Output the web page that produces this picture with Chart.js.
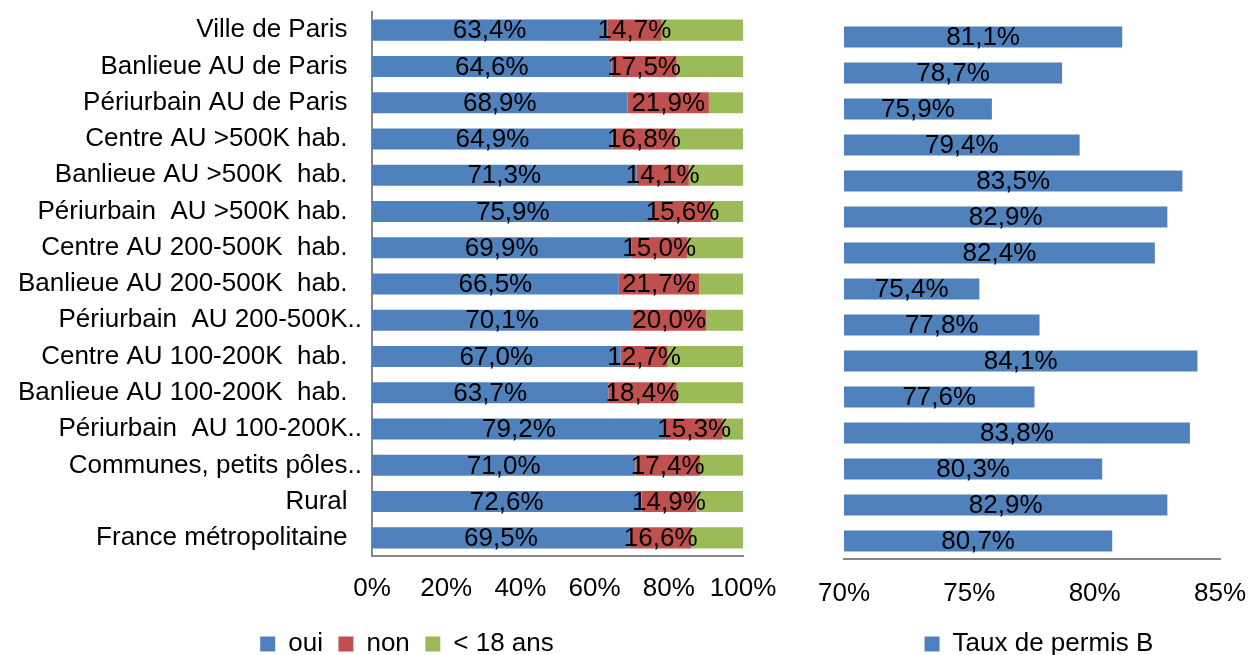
<!DOCTYPE html>
<html>
<head>
<meta charset="utf-8">
<script src="https://cdn.jsdelivr.net/npm/chart.js@4.4.1/dist/chart.umd.min.js"></script>
<style>
    html, body { margin: 0; padding: 0; background: #fff; overflow: hidden; width: 1249px; height: 655px; }
    #chartStatut { position: absolute; left: 0; top: 0; }
    #chartPermis { position: absolute; left: 810px; top: 0; }
</style>
</head>
<body>
<canvas id="chartStatut" width="814" height="667"></canvas>
<canvas id="chartPermis" width="458" height="667"></canvas>
<script>
var categories = [
    'Ville de Paris',
    'Banlieue AU de Paris',
    'Périurbain AU de Paris',
    'Centre AU >500K hab.',
    'Banlieue AU >500K  hab.',
    'Périurbain  AU >500K hab.',
    'Centre AU 200-500K  hab.',
    'Banlieue AU 200-500K  hab.',
    'Périurbain  AU 200-500K..',
    'Centre AU 100-200K  hab.',
    'Banlieue AU 100-200K  hab.',
    'Périurbain  AU 100-200K..',
    'Communes, petits pôles..',
    'Rural',
    'France métropolitaine'
];

var ouiValues = [63.4, 64.6, 68.9, 64.9, 71.3, 75.9, 69.9, 66.5, 70.1, 67.0, 63.7, 79.2, 71.0, 72.6, 69.5];
var nonValues = [14.7, 17.5, 21.9, 16.8, 14.1, 15.6, 15.0, 21.7, 20.0, 12.7, 18.4, 15.3, 17.4, 14.9, 16.6];
var moins18Values = [21.9, 17.9, 9.2, 18.3, 14.6, 8.5, 15.1, 11.8, 9.9, 20.3, 17.9, 5.5, 11.6, 12.5, 13.9];
var permisValues = [81.1, 78.7, 75.9, 79.4, 83.5, 82.9, 82.4, 75.4, 77.8, 84.1, 77.6, 83.8, 80.3, 82.9, 80.7];

var FONT = '"Liberation Sans", Arial, Helvetica, sans-serif';
var AXIS_GREY = '#868686';

Chart.defaults.font.family = FONT;
Chart.defaults.font.size = 26;
Chart.defaults.color = '#000';

function formatPct(v) {
    return v.toFixed(1).replace('.', ',') + '%';
}

var valueLabels = {
    id: 'valueLabels',
    afterDatasetsDraw: function (chart) {
        var ctx = chart.ctx;
        ctx.save();
        ctx.font = '26px ' + FONT;
        ctx.fillStyle = '#000';
        ctx.textAlign = 'center';
        ctx.textBaseline = 'middle';
        chart.data.datasets.forEach(function (dataset, i) {
            if (!dataset.showValues) {
                return;
            }
            chart.getDatasetMeta(i).data.forEach(function (bar, j) {
                var p = bar.getCenterPoint();
                ctx.fillText(formatPct(dataset.data[j]), p.x, p.y + 1);
            });
        });
        ctx.restore();
    }
};

function legendOptions() {
    return {
        position: 'bottom',
        labels: { boxWidth: 15, boxHeight: 15, padding: 15.5, color: '#000', font: { size: 26 } }
    };
}

function barSet(label, data, color, showValues) {
    return {
        label: label,
        data: data,
        backgroundColor: color,
        borderWidth: 0,
        barPercentage: 0.58,
        categoryPercentage: 1,
        showValues: showValues
    };
}

function noPadding(s) {
    s.paddingTop = 0;
    s.paddingBottom = 0;
    s.paddingLeft = 0;
    s.paddingRight = 0;
}

var statutChart = new Chart(document.getElementById('chartStatut'), {
    type: 'bar',
    data: {
        labels: categories,
        datasets: [
            barSet('oui', ouiValues, '#4F81BD', true),
            barSet('non', nonValues, '#C0504D', true),
            barSet('< 18 ans', moins18Values, '#9BBB59', false)
        ]
    },
    options: {
        responsive: false,
        animation: false,
        indexAxis: 'y',
        layout: { padding: { top: 12, left: 0, right: 0, bottom: 0 } },
        plugins: { legend: legendOptions(), tooltip: { enabled: false } },
        scales: {
            x: {
                stacked: true,
                min: 0,
                max: 100,
                grid: { display: false, drawTicks: false },
                border: { color: AXIS_GREY, width: 2 },
                ticks: { stepSize: 20, padding: 17, callback: function (v) { return v + '%'; } },
                afterFit: function (s) { s.height = 59.5; noPadding(s); }
            },
            y: {
                stacked: true,
                grid: { display: false, drawTicks: false },
                border: { color: AXIS_GREY, width: 2 },
                ticks: {
                    padding: 10,
                    callback: function (v) {
                        var name = this.getLabelForValue(v);
                        return name.slice(-2) === '..' ? name : name + '  ';
                    }
                },
                afterFit: function (s) { s.width = 372; noPadding(s); }
            },
            yPad: {
                axis: 'y',
                type: 'category',
                position: 'right',
                grid: { display: false },
                border: { display: false },
                ticks: { display: false },
                afterFit: function (s) { s.width = 71; noPadding(s); }
            }
        }
    },
    plugins: [valueLabels]
});

var permisDataset = barSet('Taux de permis B', permisValues, '#4F81BD', true);
permisDataset.base = 70;

var permisChart = new Chart(document.getElementById('chartPermis'), {
    type: 'bar',
    data: {
        labels: categories,
        datasets: [permisDataset]
    },
    options: {
        responsive: false,
        animation: false,
        indexAxis: 'y',
        layout: { padding: { top: 19, left: 0, right: 0, bottom: 0 } },
        plugins: { legend: legendOptions(), tooltip: { enabled: false } },
        scales: {
            x: {
                min: 70,
                max: 85,
                grid: { display: false, drawTicks: false },
                border: { color: AXIS_GREY, width: 2 },
                ticks: { stepSize: 5, padding: 19, callback: function (v) { return v + '%'; } },
                afterFit: function (s) { s.height = 56.5; noPadding(s); }
            },
            y: {
                grid: { display: false },
                border: { display: false },
                ticks: { display: false },
                afterFit: function (s) { s.width = 34; noPadding(s); }
            },
            yPad: {
                axis: 'y',
                type: 'category',
                position: 'right',
                grid: { display: false },
                border: { display: false },
                ticks: { display: false },
                afterFit: function (s) { s.width = 48; noPadding(s); }
            }
        }
    },
    plugins: [valueLabels]
});
</script>
</body>
</html>
